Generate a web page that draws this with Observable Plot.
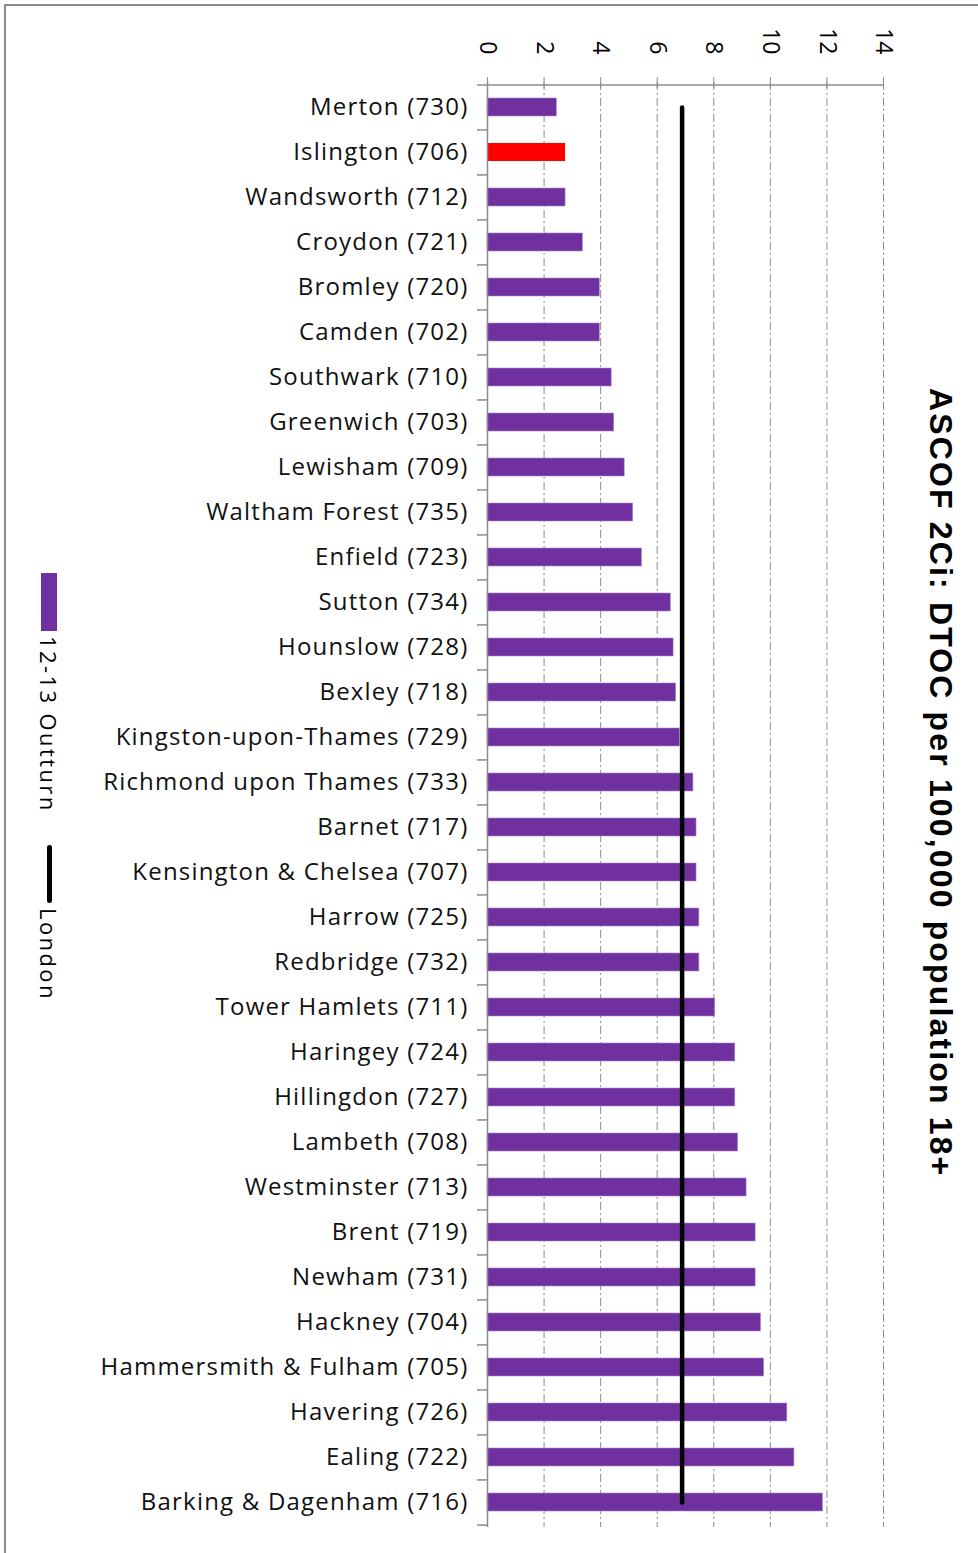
<!DOCTYPE html>
<html>
<head>
<meta charset="utf-8">
<script src="https://cdn.jsdelivr.net/npm/d3@7"></script>
<script src="https://cdn.jsdelivr.net/npm/@observablehq/plot@0.6"></script>
<style>
  html, body { margin: 0; padding: 0; background: #fff; }
  #wrap { position: relative; width: 978px; height: 1553px; overflow: hidden; }
  #frame { position: absolute; left: 4px; top: 4px; right: -10px; bottom: -10px;
           border-top: 2px solid #8c8c8c; border-left: 2px solid #8c8c8c; }
  #chart { position: absolute; left: 0; top: 0; }
  .rot { position: absolute; transform: rotate(90deg); transform-origin: 0 0; white-space: nowrap; }
  #title { font-family: "Liberation Sans", Arial, sans-serif; font-weight: bold; font-size: 32px; line-height: 32px; letter-spacing: 2.15px; color: #000; }
  .legtxt { font-family: "Open Sans", sans-serif; font-size: 22px; line-height: 22px; letter-spacing: 2.4px; color: #000; }
  .swatch { position: absolute; }
  [aria-label="y-axis tick label"] text { letter-spacing: 1.2px; }
</style>
</head>
<body>
<div id="wrap">
  <div id="frame"></div>
  <div id="chart"></div>
  <div id="title" class="rot" style="left:957px; top:388px;">ASCOF 2Ci: DTOC per 100,000 population 18+</div>
  <div class="swatch" style="left:41px; top:573px; width:16px; height:58px; background:#7030A0;"></div>
  <div class="rot legtxt" style="left:60px; top:636px;">12-13 Outturn</div>
  <div class="swatch" style="left:47px; top:845px; width:5px; height:58px; background:#000; border-radius:3px;"></div>
  <div class="rot legtxt" style="left:60px; top:908px;">London</div>
</div>
<script>
const categories = [
  "Merton (730)", "Islington (706)", "Wandsworth (712)", "Croydon (721)", "Bromley (720)",
  "Camden (702)", "Southwark (710)", "Greenwich (703)", "Lewisham (709)", "Waltham Forest (735)",
  "Enfield (723)", "Sutton (734)", "Hounslow (728)", "Bexley (718)", "Kingston-upon-Thames (729)",
  "Richmond upon Thames (733)", "Barnet (717)", "Kensington & Chelsea (707)", "Harrow (725)",
  "Redbridge (732)", "Tower Hamlets (711)", "Haringey (724)", "Hillingdon (727)", "Lambeth (708)",
  "Westminster (713)", "Brent (719)", "Newham (731)", "Hackney (704)", "Hammersmith & Fulham (705)",
  "Havering (726)", "Ealing (722)", "Barking & Dagenham (716)"
];
const outturn = [
  2.45, 2.76, 2.76, 3.37, 3.97,
  3.97, 4.39, 4.48, 4.85, 5.15,
  5.46, 6.48, 6.58, 6.67, 6.80,
  7.28, 7.39, 7.39, 7.49,
  7.49, 8.05, 8.76, 8.76, 8.86,
  9.16, 9.48, 9.48, 9.67, 9.78,
  10.60, 10.85, 11.86
];
const londonRate = 6.88;
const highlight = "Islington (706)";
const xTicks = [0, 2, 4, 6, 8, 10, 12, 14];

const W = 978, H = 1553;
const mL = 487, mT = 82, mR = 95, mB = 26;
const step = (H - mT - mB) / categories.length;

const rows = categories.map((c, i) => ({area: c, value: outturn[i], london: londonRate}));

const chart = Plot.plot({
  width: W, height: H,
  marginLeft: mL, marginTop: mT, marginRight: mR, marginBottom: mB,
  style: {fontFamily: "'Open Sans', sans-serif", background: "transparent", overflow: "visible"},
  x: {domain: [0, 14], axis: null},
  y: {domain: categories, paddingInner: 0.6, paddingOuter: 0.3, axis: null},
  marks: [
    Plot.ruleX(xTicks.filter(d => d > 0), {x: d => d, stroke: "#8c8c8c", strokeWidth: 1, strokeDasharray: "8,3,2,3"}),
    Plot.barX(rows.filter(d => d.area !== highlight), {y: "area", x: "value", fill: "#7030A0", stroke: "#a98bc9", strokeWidth: 0.6}),
    Plot.barX(rows.filter(d => d.area === highlight), {y: "area", x: "value", fill: "#FF0000"}),
    Plot.lineX(rows, {x: "london", y: "area", stroke: "#000", strokeWidth: 4.5, strokeLinecap: "round"}),
    Plot.ruleX([0], {stroke: "#8c8c8c", strokeWidth: 1.5}),
    Plot.ruleY(categories.slice(1), {y: d => d, x1: 0, x2: 0, insetLeft: -10, dy: -step / 2, stroke: "#8c8c8c", strokeWidth: 1.5}),
    Plot.ruleY(categories.slice(-1), {y: d => d, x1: 0, x2: 0, insetLeft: -10, dy: step / 2, stroke: "#8c8c8c", strokeWidth: 1.5}),
    Plot.ruleY(categories.slice(0, 1), {y: d => d, x1: 0, x2: 14, insetLeft: -10, dy: -step / 2, stroke: "#8c8c8c", strokeWidth: 1.5}),
    Plot.axisX({anchor: "top", ticks: xTicks, tickSize: 11, dy: 5, tickPadding: 22, tickRotate: 90,
      textAnchor: "end", lineAnchor: "middle", fontSize: 23, stroke: "#8c8c8c", color: "#000", label: null}),
    Plot.axisY({tickSize: 0, tickPadding: 19, fontSize: 24, color: "#111", label: null})
  ]
});
document.getElementById("chart").appendChild(chart);
</script>
</body>
</html>
